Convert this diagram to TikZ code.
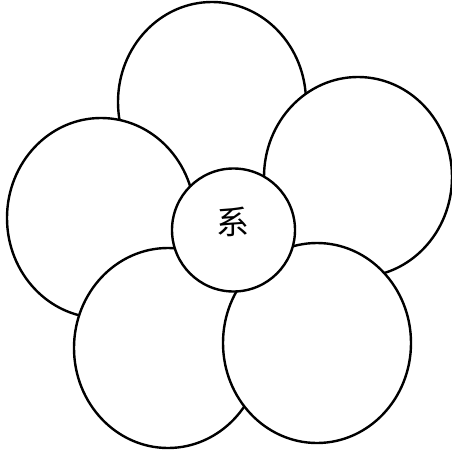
\documentclass[tikz,border=0pt]{standalone}
\usepackage{fontspec}
\newfontfamily\cjk{Noto Sans CJK SC}
\usetikzlibrary{shapes.geometric}
\tikzset{
  petal/.style={ellipse, draw=black, fill=white, line width=2.4pt, inner sep=0pt,
    minimum width=188pt, minimum height=200pt},
  hub/.style={circle, draw=black, fill=white, line width=2.4pt, inner sep=0pt,
    minimum size=123pt},
  hubtext/.style={font=\cjk\fontsize{33}{36}\selectfont, inner sep=0pt}
}
\begin{document}
\begin{tikzpicture}[x=1pt,y=-1pt]
\useasboundingbox (0,0) rectangle (451,452);
\node[petal] (top) at (212,102) {};
\node[petal] (left) at (101,218) {};
\node[petal] (right) at (358,177) {};
\node[petal] (bleft) at (168,348) {};
\node[petal] (bright) at (317,343) {};
\node[hub] (hub) at (233.5,230) {};
\node[hubtext] (label) at (232.5,221.5) {系};
\end{tikzpicture}
\end{document}
